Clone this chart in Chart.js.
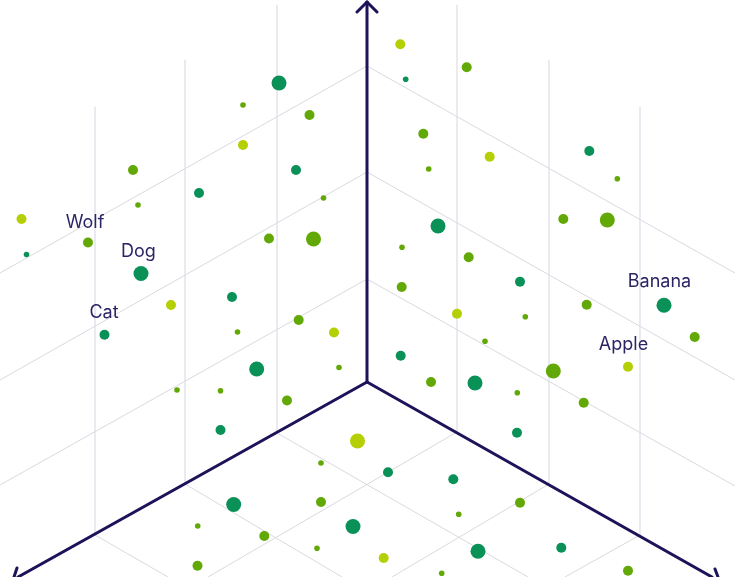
<!DOCTYPE html>
<html>
<head>
<meta charset="utf-8">
<style>
body { margin: 0; background: #fff; }
canvas { display: block; }
</style>
<script src="https://cdn.jsdelivr.net/npm/chart.js@4/dist/chart.umd.min.js"></script>
</head>
<body>
<canvas id="chart" width="735" height="577"></canvas>
<script>
// points per colour group, weight 1 small / 2 medium / 3 large
var darkX = [279, 296, 199, 26.5, 141, 232, 104.5, 256.7, 220.5, 233.7, 353, 405.7, 438, 589.3, 520, 664, 400.7, 475, 517, 388, 453.3, 478, 561.3]
var darkY = [83, 170, 193, 254.5, 273.5, 297, 334.7, 369, 430, 504.5, 526.5, 79.3, 226, 151, 281.7, 305.3, 355.7, 383, 432.7, 472.3, 479.3, 551.3, 547.7]
var darkW = [3, 2, 2, 1, 3, 2, 2, 3, 2, 3, 3, 1, 3, 2, 2, 3, 2, 3, 2, 2, 2, 3, 2]

var midX = [243, 309.5, 133, 323.5, 138, 88, 269, 313.5, 298.7, 237.5, 339, 177, 220.5, 287, 321, 321, 197.7, 264.3, 317, 197.5, 466.7, 423.3, 428.7, 617.3, 563.3, 607.3, 402, 468.7, 401.7, 586.7, 525.3, 485, 694.7, 553.3, 431, 517.3, 583.7, 520, 458.7, 441.7, 628]
var midY = [105, 115, 170, 198, 205, 242.5, 238.5, 239, 320, 332, 367.5, 390, 390.7, 400.5, 463, 502, 526, 536, 548.3, 565.7, 67.3, 133.7, 169, 178.7, 219, 220, 247.3, 257.3, 287, 304.7, 316.7, 341.3, 337, 371, 382, 392.7, 402.7, 502.7, 514.3, 573.3, 570.7]
var midW = [1, 2, 2, 1, 1, 2, 2, 3, 2, 1, 1, 1, 1, 2, 1, 2, 1, 2, 1, 2, 2, 2, 1, 1, 2, 3, 1, 2, 2, 2, 1, 1, 2, 3, 2, 1, 2, 2, 1, 1, 2]

var limeX = [243, 21.5, 171, 334, 357.5, 400.3, 489.7, 457, 628, 383.7]
var limeY = [145, 219, 305, 332.5, 441, 44.3, 156.7, 313.7, 366.7, 558]
var limeW = [2, 2, 2, 2, 3, 2, 2, 2, 2, 2]

var labelNames = ['Wolf', 'Dog', 'Cat', 'Banana', 'Apple']
var labelX = [85, 138.5, 104, 659.5, 623.5]
var labelY = [223, 252, 313, 282, 345]

// grid segments as [x1, y1, x2, y2]
var wallLines = [
	[95, 107, 95, 535], [185, 60, 185, 484], [277, 5, 277, 432],
	[457, 5, 457, 432], [549, 60, 549, 484], [640, 107, 640, 535]
]
var planeLines = [
	[367, 66, 0, 273], [367, 172, 0, 380], [367, 279, 0, 485],
	[367, 66, 735, 273], [367, 172, 735, 380], [367, 279, 735, 486],
	[277, 433, 528, 577], [185, 484, 342, 577], [95, 535, 168, 577],
	[457, 432, 208, 577], [549, 484, 392, 577], [640, 535, 565, 577]
]
var axisLines = [
	[367, 382, 367, 2], [357, 12, 367, 2], [367, 2, 377, 12],
	[367, 382, 18, 577], [367, 382, 712, 577],
	[17, 568, 14, 577], [715, 569, 718, 577]
]

function lineSet(seg, color, width, order) {
	return {
		type: 'line',
		data: [{ x: seg[0], y: seg[1] }, { x: seg[2], y: seg[3] }],
		borderColor: color,
		borderWidth: width,
		borderCapStyle: 'round',
		pointRadius: 0,
		fill: false,
		order: order
	}
}

function bubbleSet(xs, ys, ws, color) {
	var rows = []
	for (var i = 0; i < xs.length; i++) {
		rows.push({ x: xs[i], y: ys[i], r: ws[i] == 1 ? 2.8 : ws[i] * 2.5 })
	}
	return { type: 'bubble', data: rows, backgroundColor: color, borderWidth: 0, hoverRadius: 0, order: 1 }
}

var datasets = [
	bubbleSet(darkX, darkY, darkW, '#0a9158'),
	bubbleSet(midX, midY, midW, '#62a806'),
	bubbleSet(limeX, limeY, limeW, '#b4cf03')
]
wallLines.forEach(function (s) { datasets.push(lineSet(s, '#dcdce8', 1.2, 5)) })
planeLines.forEach(function (s) { datasets.push(lineSet(s, '#d9d9df', 1, 5)) })
axisLines.forEach(function (s) { datasets.push(lineSet(s, '#1c1359', 3, 3)) })

var namePlugin = {
	id: 'names',
	afterDatasetsDraw: function (chart) {
		var ctx = chart.ctx
		ctx.save()
		ctx.font = '18px Inter'
		ctx.fillStyle = '#2b2566'
		ctx.textAlign = 'center'
		ctx.textBaseline = 'middle'
		labelNames.forEach(function (name, i) {
			ctx.fillText(name, chart.scales.x.getPixelForValue(labelX[i]), chart.scales.y.getPixelForValue(labelY[i]))
		})
		ctx.restore()
	}
}

new Chart(document.getElementById('chart'), {
	type: 'bubble',
	data: { datasets: datasets },
	plugins: [namePlugin],
	options: {
		responsive: false,
		animation: false,
		layout: { padding: 0, autoPadding: false },
		plugins: { legend: { display: false }, tooltip: { enabled: false } },
		events: [],
		scales: {
			x: { type: 'linear', display: false, min: 0, max: 735 },
			y: { type: 'linear', display: false, min: 0, max: 577, reverse: true }
		}
	}
})
</script>
</body>
</html>
